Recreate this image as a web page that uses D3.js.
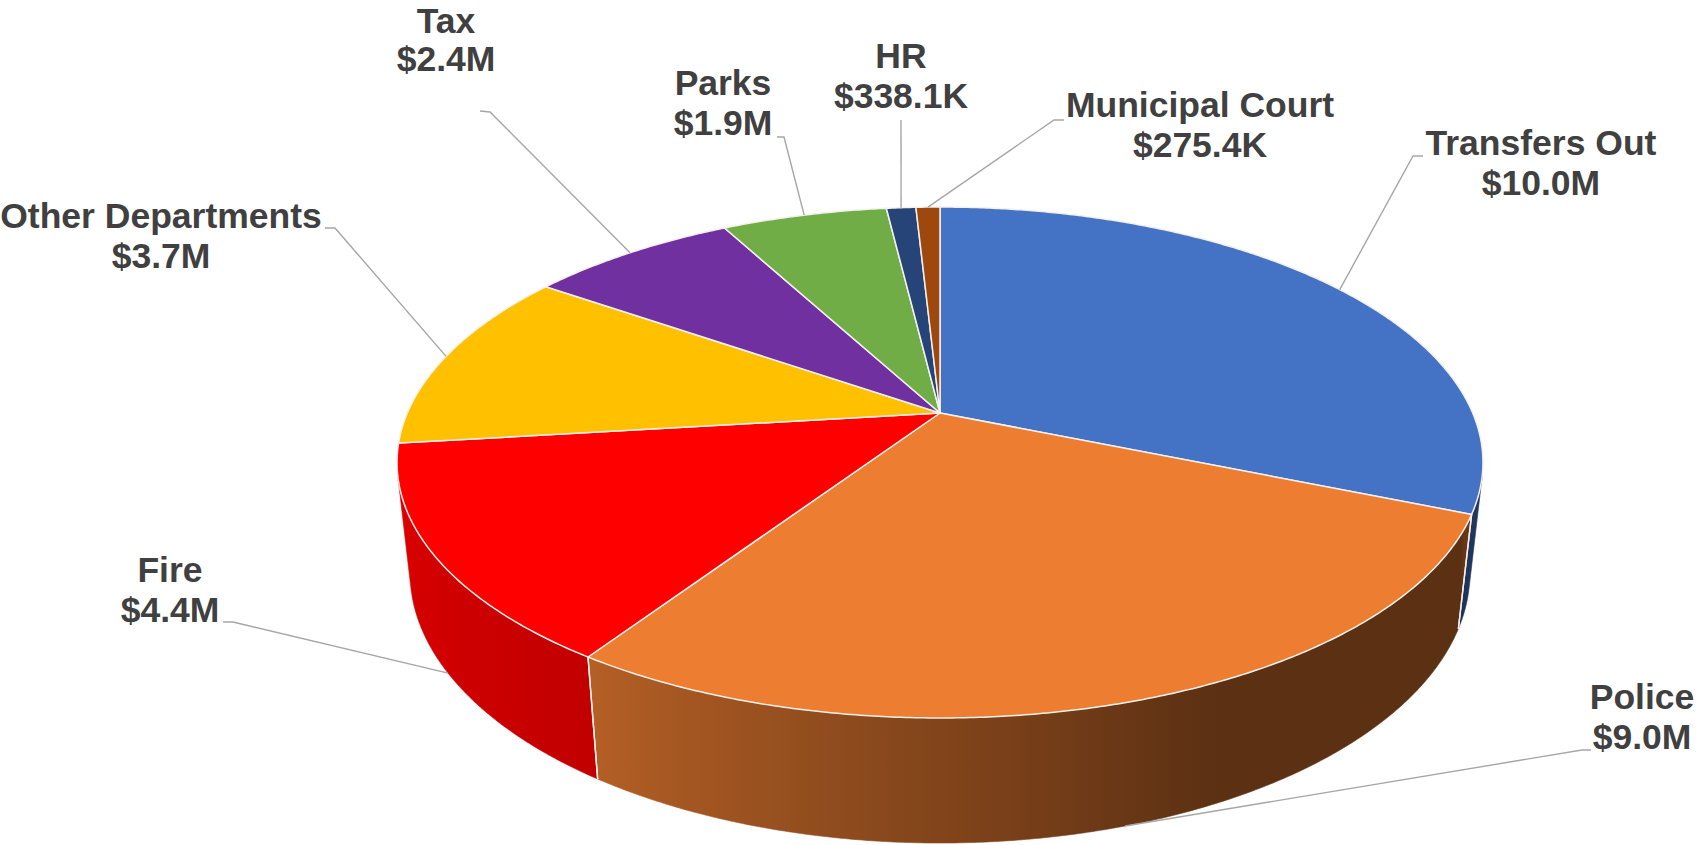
<!DOCTYPE html>
<html>
<head>
<meta charset="utf-8">
<script src="https://cdn.jsdelivr.net/npm/d3@7"></script>
<style>
  html, body { margin: 0; padding: 0; background: #ffffff; }
  svg { display: block; }
</style>
</head>
<body>
<svg id="chart" width="1700" height="845"></svg>
<script>
// General fund expenditures by department (millions of dollars)
const categories = ["Transfers Out", "Police", "Fire", "Other Departments", "Tax", "Parks", "HR", "Municipal Court"];
const values = [10.0, 9.0, 4.4, 3.7, 2.4, 1.9, 0.3381, 0.2754];
const colors = ["#4472C4", "#ED7D31", "#FF0000", "#FFC000", "#7030A0", "#70AD47", "#264478", "#9E480E"];

// Label placement: text centre x / first baseline, line gap, and the two leader points next to the text
const labelPos    = [[1541, 155], [1642, 709], [170, 582], [161, 228], [446, 33], [723, 95], [901, 68], [1200, 117]];
const labelGap    = [40, 40, 40, 40, 38, 40, 40, 40];
const leaderStart = [[1423, 156], [1591, 750], [223, 622], [325, 228], [480, 111], [777, 137], [901, 120], [1064, 120]];
const leaderElbow = [[1413, 156], [1582, 750], [233, 622], [335, 228], [490, 112], [784, 137], [901, 120], [1054, 120]];

const fmtMoney = v => v >= 1 ? "$" + v.toFixed(1) + "M" : "$" + (v * 1000).toFixed(1) + "K";

// Perspective camera for the tilted disc
const cx = 940, cy = 413, focal = 2439;
const R = 0.2184, H = 0.0513;
const tilt = Math.asin(0.4616);
const sinT = Math.sin(tilt), cosT = Math.cos(tilt);

// theta: degrees clockwise from the back of the disc; r: radius; z: height (0 = top face)
function project(theta, r, z) {
  const t = theta * Math.PI / 180;
  const x = r * Math.sin(t), yd = r * Math.cos(t);
  const Y = yd * sinT + z * cosT;
  const D = 1 + yd * cosT - z * sinT;
  return [cx + focal * x / D, cy - focal * Y / D];
}

function arcPoints(a0, a1, z) {
  const n = Math.max(2, Math.ceil(Math.abs(a1 - a0) / 0.4));
  const pts = [];
  for (let i = 0; i <= n; i++) pts.push(project(a0 + (a1 - a0) * i / n, R, z));
  return pts;
}

// Outer wall is visible where its normal faces the camera
const visLo = Math.acos(-R / cosT) * 180 / Math.PI;
const visHi = 360 - visLo;

// Side lighting: brightness factor by angle around the rim
const shadeKnots = [[100, 0.48], [112.4, 0.46], [112.6, 0.39], [155, 0.39], [214, 0.76], [260, 0.87]];
const shadeAt = d3.scaleLinear().domain(shadeKnots.map(k => k[0])).range(shadeKnots.map(k => k[1])).clamp(true);
function shadeColor(c, k) {
  const q = d3.rgb(c);
  return d3.rgb(q.r * k, q.g * k, q.b * k).formatHex();
}

const pie = d3.pie().sort(null).value(d => d);
const arcs = pie(values).map((a, i) => ({
  i,
  name: categories[i],
  value: values[i],
  color: colors[i],
  a0: a.startAngle * 180 / Math.PI,
  a1: a.endAngle * 180 / Math.PI
}));

const svg = d3.select("#chart");
const defs = svg.append("defs");
const line = d3.line();

// ---- outer walls ----
const wallG = svg.append("g");
const edgeG = svg.append("g");
arcs.forEach(d => {
  const w0 = Math.max(d.a0, visLo), w1 = Math.min(d.a1, visHi);
  if (w1 <= w0) return;
  const top = arcPoints(w0, w1, 0);
  const bot = arcPoints(w1, w0, -H);
  const xs = top.concat(bot).map(p => p[0]);
  const xmin = d3.min(xs), xmax = d3.max(xs);
  const gid = "wall-" + d.i;
  const grad = defs.append("linearGradient")
    .attr("id", gid).attr("gradientUnits", "userSpaceOnUse")
    .attr("x1", xmin).attr("x2", xmax).attr("y1", 0).attr("y2", 0);
  const stops = [];
  const n = Math.max(2, Math.ceil((w1 - w0) / 2));
  for (let k = 0; k <= n; k++) {
    const th = w0 + (w1 - w0) * k / n;
    const px = project(th, R, -H / 2)[0];
    stops.push({ off: Math.min(1, Math.max(0, (px - xmin) / (xmax - xmin))), col: shadeColor(d.color, shadeAt(th)) });
  }
  stops.sort((a, b) => a.off - b.off);
  grad.selectAll("stop").data(stops).join("stop")
    .attr("offset", s => s.off).attr("stop-color", s => s.col);

  wallG.append("path")
    .attr("d", line(top.concat(bot)) + "Z")
    .attr("fill", "url(#" + gid + ")")
    .attr("stroke", "url(#" + gid + ")")
    .attr("stroke-width", 0.6);

  // seams where neighbouring walls meet
  [d.a0, d.a1].forEach(th => {
    if (th > visLo && th < visHi) {
      edgeG.append("path")
        .attr("d", line([project(th, R, 0), project(th, R, -H)]))
        .attr("stroke", "#f4f0ec").attr("stroke-width", 1.4).attr("fill", "none");
    }
  });
});

// ---- top faces ----
const apex = project(0, 0, 0);
svg.append("g").selectAll("path").data(arcs).join("path")
  .attr("d", d => line([apex].concat(arcPoints(d.a0, d.a1, 0))) + "Z")
  .attr("fill", d => d.color)
  .attr("stroke", "#f4f0ec")
  .attr("stroke-width", 1.5)
  .attr("stroke-linejoin", "round");

// ---- leader lines ----
const leaderG = svg.append("g");
arcs.forEach(d => {
  const mid = (d.a0 + d.a1) / 2;
  const onWall = mid > visLo && mid < visHi;
  const anchor = project(mid, R, onWall ? -H : 0);
  leaderG.append("path")
    .attr("d", line([leaderStart[d.i], leaderElbow[d.i], anchor]))
    .attr("fill", "none")
    .attr("stroke", "#a6a6a6")
    .attr("stroke-width", 1.4);
});

// ---- data labels ----
const labelG = svg.append("g")
  .attr("font-family", "'Liberation Sans', Arial, Helvetica, sans-serif")
  .attr("font-weight", "bold")
  .attr("font-size", 35.5)
  .attr("fill", "#404040")
  .attr("text-anchor", "middle");
arcs.forEach(d => {
  const [lx, ly] = labelPos[d.i];
  const t = labelG.append("text").attr("x", lx).attr("y", ly);
  t.append("tspan").attr("x", lx).attr("y", ly).text(d.name);
  t.append("tspan").attr("x", lx).attr("y", ly + labelGap[d.i]).text(fmtMoney(d.value));
});
</script>
</body>
</html>
